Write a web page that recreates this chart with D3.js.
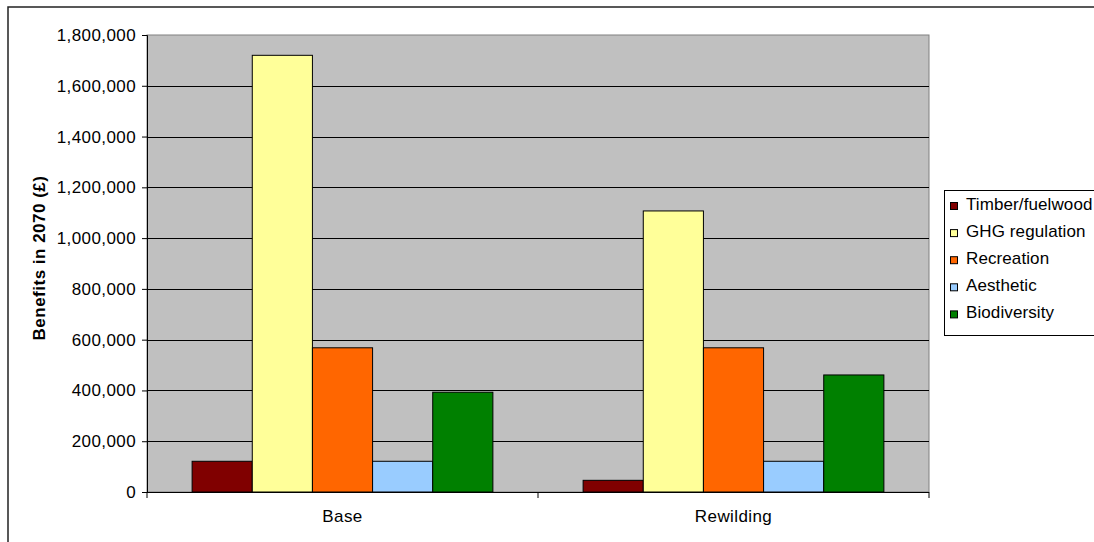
<!DOCTYPE html>
<html>
<head>
<meta charset="utf-8">
<script src="https://cdn.jsdelivr.net/npm/d3@7"></script>
<style>
  html, body { margin: 0; padding: 0; background: #fff; }
  svg { display: block; }
  text { font-family: "Liberation Sans", Arial, sans-serif; fill: #000; }
</style>
</head>
<body>
<svg id="chart" width="1094" height="542"></svg>
<script>
const categories = ["Base", "Rewilding"];
const seriesNames = ["Timber/fuelwood", "GHG regulation", "Recreation", "Aesthetic", "Biodiversity"];
const seriesColors = ["#800000", "#FFFF99", "#FF6600", "#99CCFF", "#008000"];
const timberValues = [121000, 46000];
const ghgValues = [1720000, 1107000];
const recreationValues = [568000, 568000];
const aestheticValues = [121000, 121000];
const biodiversityValues = [393000, 461000];
const yTicks = [0, 200000, 400000, 600000, 800000, 1000000, 1200000, 1400000, 1600000, 1800000];
const yMax = 1800000;

const seriesValues = [timberValues, ghgValues, recreationValues, aestheticValues, biodiversityValues];

const svg = d3.select("#chart");
const plot = { left: 147, right: 929, top: 35, bottom: 492 };

// outer chart border (only left/top visible)
svg.append("rect")
  .attr("x", 8).attr("y", 7)
  .attr("width", 1200).attr("height", 700)
  .attr("fill", "#fff").attr("stroke", "#222").attr("stroke-width", 1.5);

const y = d3.scaleLinear().domain([0, yMax]).range([plot.bottom, plot.top]);
const x0 = d3.scaleBand().domain(categories).range([plot.left, plot.right]).paddingInner(0).paddingOuter(0);
const x1 = d3.scaleBand().domain(seriesNames).range([0, x0.bandwidth()]).paddingInner(0).paddingOuter(0.75);

// plot area
svg.append("rect")
  .attr("x", plot.left).attr("y", plot.top)
  .attr("width", plot.right - plot.left).attr("height", plot.bottom - plot.top)
  .attr("fill", "#C0C0C0").attr("stroke", "#808080").attr("stroke-width", 1);

// gridlines
svg.append("g").selectAll("line").data(yTicks.filter(d => d > 0 && d < yMax)).join("line")
  .attr("x1", plot.left).attr("x2", plot.right)
  .attr("y1", d => Math.round(y(d)) + 0.5).attr("y2", d => Math.round(y(d)) + 0.5)
  .attr("stroke", "#000").attr("stroke-width", 1);

// bars
const groups = svg.append("g").selectAll("g").data(categories).join("g")
  .attr("transform", c => `translate(${x0(c)},0)`);
groups.selectAll("rect")
  .data((c, ci) => seriesNames.map((s, si) => ({ s, si, v: seriesValues[si][ci] })))
  .join("rect")
  .attr("x", d => x1(d.s))
  .attr("y", d => y(d.v))
  .attr("width", x1.bandwidth())
  .attr("height", d => y(0) - y(d.v))
  .attr("fill", d => seriesColors[d.si])
  .attr("stroke", "#000").attr("stroke-width", 1);

// y axis
const yAxis = d3.axisLeft(y).tickValues(yTicks).tickSize(5).tickPadding(6)
  .tickFormat(d3.format(","));
const gy = svg.append("g").attr("transform", `translate(${plot.left},0)`).call(yAxis);
gy.select(".domain").attr("stroke", "#000");
gy.selectAll(".tick line").attr("stroke", "#000");
gy.selectAll(".tick text")
  .attr("font-size", 17).style("letter-spacing", "0.4px")
  .attr("font-family", "Liberation Sans, Arial, sans-serif").attr("fill", "#000");

// x axis
const gx = svg.append("g").attr("transform", `translate(0,${plot.bottom})`);
gx.append("line").attr("x1", plot.left).attr("x2", plot.right).attr("y1", 0.5).attr("y2", 0.5).attr("stroke", "#000");
const boundaries = categories.map(c => x0(c)).concat([x0(categories[categories.length - 1]) + x0.bandwidth()]);
gx.selectAll("line.tk").data(boundaries).join("line").attr("class", "tk")
  .attr("x1", d => d).attr("x2", d => d).attr("y1", 0).attr("y2", 6).attr("stroke", "#000");
gx.selectAll("text").data(categories).join("text")
  .attr("x", c => x0(c) + x0.bandwidth() / 2)
  .attr("y", 30)
  .attr("text-anchor", "middle")
  .attr("font-size", 17).style("letter-spacing", "0.4px")
  .text(c => c);

// y title
svg.append("text")
  .attr("transform", "translate(45,258) rotate(-90)")
  .attr("text-anchor", "middle")
  .attr("font-size", 17).attr("font-weight", "bold")
  .style("letter-spacing", "0.5px")
  .text("Benefits in 2070 (£)");

// legend
const lg = svg.append("g");
lg.append("rect").attr("x", 944.5).attr("y", 190.5).attr("width", 200).attr("height", 145)
  .attr("fill", "#fff").attr("stroke", "#000").attr("stroke-width", 1);
const items = lg.selectAll("g").data(seriesNames).join("g")
  .attr("transform", (d, i) => `translate(0,${209.5 + i * 27.1})`);
items.append("rect").attr("x", 950.5).attr("y", -7).attr("width", 7).attr("height", 7)
  .attr("fill", (d, i) => seriesColors[i]).attr("stroke", "#000").attr("stroke-width", 1);
items.append("text").attr("x", 966).attr("y", 0).attr("font-size", 17)
  .style("letter-spacing", "0.1px").text(d => d);
</script>
</body>
</html>
